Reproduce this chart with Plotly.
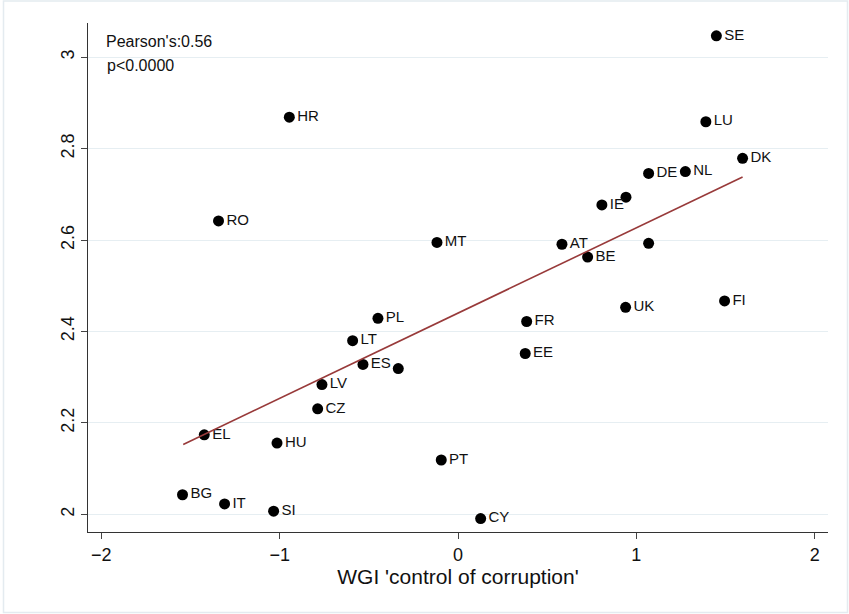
import plotly.graph_objects as go

countries = ["SE", "LU", "DK", "DE", "NL", "", "IE", "HR", "RO", "MT", "AT", "", "BE",
             "UK", "FI", "PL", "FR", "LT", "EE", "ES", "", "LV", "CZ", "EL", "HU",
             "PT", "BG", "IT", "SI", "CY"]
wgi = [1.449, 1.39, 1.596, 1.069, 1.275, 0.942, 0.807, -0.946, -1.343, -0.118, 0.583, 1.069, 0.727,
       0.940, 1.495, -0.449, 0.385, -0.591, 0.377, -0.533, -0.335, -0.763, -0.787, -1.423, -1.015,
       -0.094, -1.545, -1.309, -1.034, 0.127]
score = [3.047, 2.859, 2.779, 2.746, 2.750, 2.694, 2.677, 2.869, 2.642, 2.595, 2.591, 2.593, 2.563,
         2.453, 2.467, 2.429, 2.422, 2.380, 2.352, 2.328, 2.319, 2.284, 2.231, 2.174, 2.156,
         2.119, 2.043, 2.023, 2.007, 1.991]
fit_x = [-1.541, 1.596]
fit_y = [2.153, 2.738]
x_ticks = [-2, -1, 0, 1, 2]
y_ticks = [2, 2.2, 2.4, 2.6, 2.8, 3]
y_tick_labels = ["2", "2.2", "2.4", "2.6", "2.8", "3"]

font = "Liberation Sans, Arial, sans-serif"

fig = go.Figure()
fig.add_trace(go.Scatter(
    x=wgi, y=score, mode="markers+text", text=countries,
    textposition="middle right", textfont=dict(family=font, size=15, color="#111"),
    marker=dict(color="black", size=11), showlegend=False, cliponaxis=False))
fig.add_trace(go.Scatter(
    x=fit_x, y=fit_y, mode="lines", line=dict(color="#983a3a", width=1.6), showlegend=False))

W, H = 849, 614
l, r, t, b = 88, 21, 23, 82
pw, ph = W - l - r, H - t - b

def px(xp):
    return (xp - l) / pw

def py(yp):
    return (H - b - yp) / ph

fig.update_layout(
    width=W, height=H,
    margin=dict(l=l, r=r, t=t, b=b),
    paper_bgcolor="white", plot_bgcolor="white",
    font=dict(family=font, color="#111"),
    xaxis=dict(range=[-2.075, 2.075], tickvals=x_ticks, showgrid=False, zeroline=False,
               showline=True, linecolor="#333", linewidth=1, ticks="outside", ticklen=6,
               tickcolor="#444", tickfont=dict(size=18, family=font),
               title=dict(text="WGI 'control of corruption'", font=dict(size=21, family=font), standoff=4)),
    yaxis=dict(range=[1.9615, 3.075], tickvals=y_ticks, ticktext=y_tick_labels, tickangle=-90,
               showgrid=True, gridcolor="#e6eef2", gridwidth=1, zeroline=False,
               showline=True, linecolor="#333", linewidth=1, ticks="outside", ticklen=6,
               tickcolor="#444", tickfont=dict(size=18, family=font)),
    shapes=[dict(type="rect", xref="paper", yref="paper",
                 x0=px(3.5), x1=px(847.5), y0=py(612.5), y1=py(1),
                 line=dict(color="#e4ebf0", width=1.5), fillcolor="rgba(0,0,0,0)", layer="below")],
    annotations=[
        dict(text="Pearson's:0.56", x=px(104), y=py(42), xref="paper", yref="paper",
             xanchor="left", yanchor="middle", showarrow=False, font=dict(size=16, family=font)),
        dict(text="p<0.0000", x=px(105), y=py(65), xref="paper", yref="paper",
             xanchor="left", yanchor="middle", showarrow=False, font=dict(size=16, family=font)),
    ],
)

fig.write_html("out.html")
